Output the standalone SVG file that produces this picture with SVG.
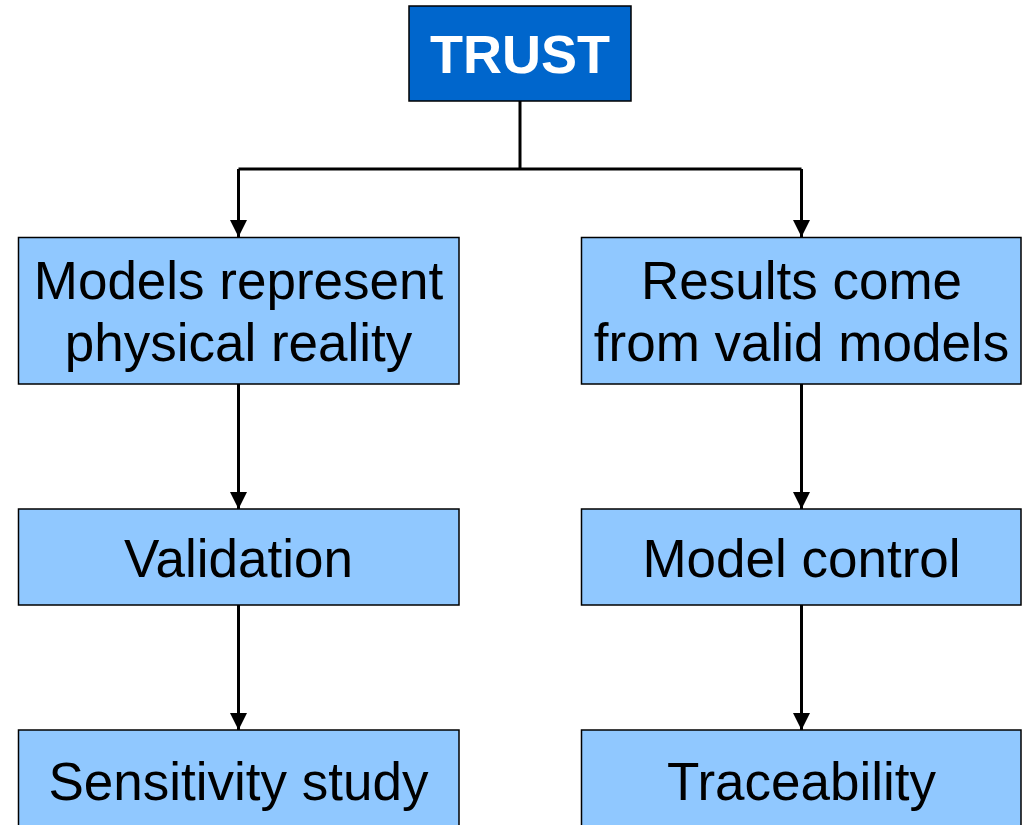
<svg xmlns="http://www.w3.org/2000/svg" width="1025" height="825" viewBox="0 0 1025 825">
<defs>
<marker id="ah" viewBox="0 0 16 16" refX="16" refY="8" markerWidth="17" markerHeight="17" markerUnits="userSpaceOnUse" orient="auto">
<path d="M0,0 L16,8 L0,16 Z" fill="#000"/>
</marker>
<style>
.box{fill:#90C8FF;stroke:#000;stroke-width:1.5}
.lbl{font-family:"Liberation Sans",Arial,sans-serif;font-size:53px;fill:#000;text-anchor:middle}
.con{fill:none;stroke:#000;stroke-width:3}
</style>
</defs>
<rect width="1025" height="825" fill="#fff"/>
<g id="connectors">
<path class="con" d="M520,101 V169"/>
<path class="con" d="M238.5,169 H801.5"/>
<path class="con" d="M238.5,169 V237" marker-end="url(#ah)"/>
<path class="con" d="M801.5,169 V237" marker-end="url(#ah)"/>
<path class="con" d="M238.5,384 V509" marker-end="url(#ah)"/>
<path class="con" d="M801.5,384 V509" marker-end="url(#ah)"/>
<path class="con" d="M238.5,605 V730" marker-end="url(#ah)"/>
<path class="con" d="M801.5,605 V730" marker-end="url(#ah)"/>
</g>
<g id="trust">
<rect x="409" y="6" width="222" height="95" fill="#0066CC" stroke="#000" stroke-width="1.5"/>
<text x="520" y="73" font-family="Liberation Sans,Arial,sans-serif" font-size="54" font-weight="bold" fill="#fff" text-anchor="middle">TRUST</text>
</g>
<g id="models">
<rect class="box" x="18.5" y="237.5" width="440.5" height="146.5"/>
<text class="lbl" x="238.5" y="299">Models represent</text>
<text class="lbl" x="238.5" y="361">physical reality</text>
</g>
<g id="results">
<rect class="box" x="581.5" y="237.5" width="439.5" height="146.5"/>
<text class="lbl" x="801.5" y="299">Results come</text>
<text class="lbl" x="801.5" y="361">from valid models</text>
</g>
<g id="validation">
<rect class="box" x="18.5" y="509" width="440.5" height="96"/>
<text class="lbl" x="238.5" y="577">Validation</text>
</g>
<g id="modelcontrol">
<rect class="box" x="581.5" y="509" width="439.5" height="96"/>
<text class="lbl" x="801.5" y="577">Model control</text>
</g>
<g id="sensitivity">
<rect class="box" x="18.5" y="730" width="440.5" height="110"/>
<text class="lbl" x="238.5" y="800">Sensitivity study</text>
</g>
<g id="traceability">
<rect class="box" x="581.5" y="730" width="439.5" height="110"/>
<text class="lbl" x="801.5" y="800">Traceability</text>
</g>
</svg>
